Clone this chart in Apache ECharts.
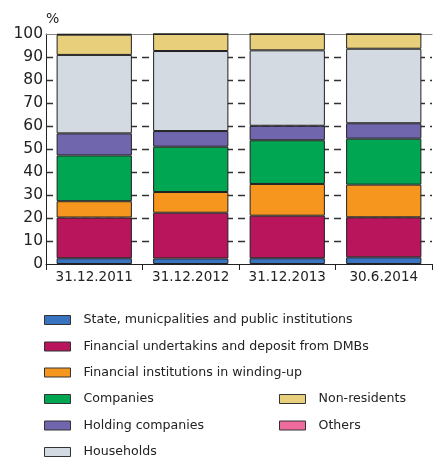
<!DOCTYPE html>
<html><head><meta charset="utf-8">
<script src="https://cdn.jsdelivr.net/npm/echarts@6/dist/echarts.min.js"></script>
<style>html,body{margin:0;padding:0;background:#fff}#c{width:433px;height:459px}</style>
</head><body><div id="c"></div>
<script>
const categories = ['31.12.2011','31.12.2012','31.12.2013','30.6.2014'];
const yTicks = [0,10,20,30,40,50,60,70,80,90,100];
const state = [2.5, 2.4, 2.5, 2.9];
const finUnder = [17.7, 19.9, 18.5, 17.4];
const winding = [7.1, 9.0, 13.8, 14.2];
const companies = [19.9, 19.7, 19.0, 20.0];
const holding = [9.6, 6.8, 6.3, 6.7];
const households = [34.1, 34.8, 32.8, 32.4];
const nonResidents = [8.8, 7.4, 7.1, 6.4];
const others = [0.3, 0.0, 0.0, 0.0];

const seriesDefs = [
  ['State, municpalities and public institutions', state, '#3a74c0'],
  ['Financial undertakins and deposit from DMBs', finUnder, '#b8155c'],
  ['Financial institutions in winding-up', winding, '#f7961e'],
  ['Companies', companies, '#00a651'],
  ['Holding companies', holding, '#6f66ae'],
  ['Households', households, '#d4dae2'],
  ['Non-residents', nonResidents, '#e8cf7b'],
  ['Others', others, '#ef6b9e']
];
// legend slot: [left, centerY]
const legendSlots = [[44,320],[44,346.5],[44,372.5],[44,399],[44,425.5],[44,452],[279,399],[279,425.5]];
const font = 'DejaVu Sans';
const chart = echarts.init(document.getElementById('c'));
const legends = seriesDefs.map((d, i) => ({
  orient: 'horizontal', icon: 'rect', itemWidth: 26, itemHeight: 9, padding: 0,
  left: legendSlots[i][0], top: legendSlots[i][1] - 7,
  textStyle: {fontFamily: font, fontSize: 12.6, color: '#222', lineHeight: 14, padding:[0,0,0,8]},
  itemStyle: {borderColor: '#333', borderWidth: 1}, selectedMode: false,
  data: [d[0]]
}));
chart.setOption({
  animation: false,
  textStyle: {fontFamily: font},
  grid: {left: 46, right: 1, top: 34, bottom: 195},
  legend: legends,
  xAxis: [{
    type: 'category', data: categories,
    axisLine: {lineStyle: {color: '#222', width: 1}},
    axisTick: {show: true, length: 6, lineStyle: {color: '#222'}},
    axisLabel: {color: '#222', fontSize: 13.5, margin: 6, fontFamily: font, interval: 0}
  }, {
    type: 'category', data: categories, position: 'top',
    axisLine: {show: true, lineStyle: {color: '#888', width: 1}},
    axisTick: {show: false}, axisLabel: {show: false}
  }],
  yAxis: {
    type: 'value', min: 0, max: 100, interval: 10,
    name: '%', nameLocation: 'end', nameGap: 8,
    nameTextStyle: {color: '#222', fontSize: 14, align: 'left', padding: [0,0,0,0], fontFamily: font},
    axisLine: {show: true, lineStyle: {color: '#222'}},
    axisTick: {show: false},
    axisLabel: {color: '#222', fontSize: 15.5, margin: 3, fontFamily: font,
      formatter: v => yTicks.includes(v) ? String(v) : ''},
    splitLine: {show: true, showMinLine: false, showMaxLine: false,
      lineStyle: {color: '#333', width: 1.3, type: [7,5], dashOffset: 0}}
  },
  series: seriesDefs.map(d => ({
    name: d[0], type: 'bar', stack: 'total', data: d[1], barCategoryGap: '22%',
    itemStyle: {color: d[2], borderColor: '#222', borderWidth: 1}
  }))
});
</script></body></html>
